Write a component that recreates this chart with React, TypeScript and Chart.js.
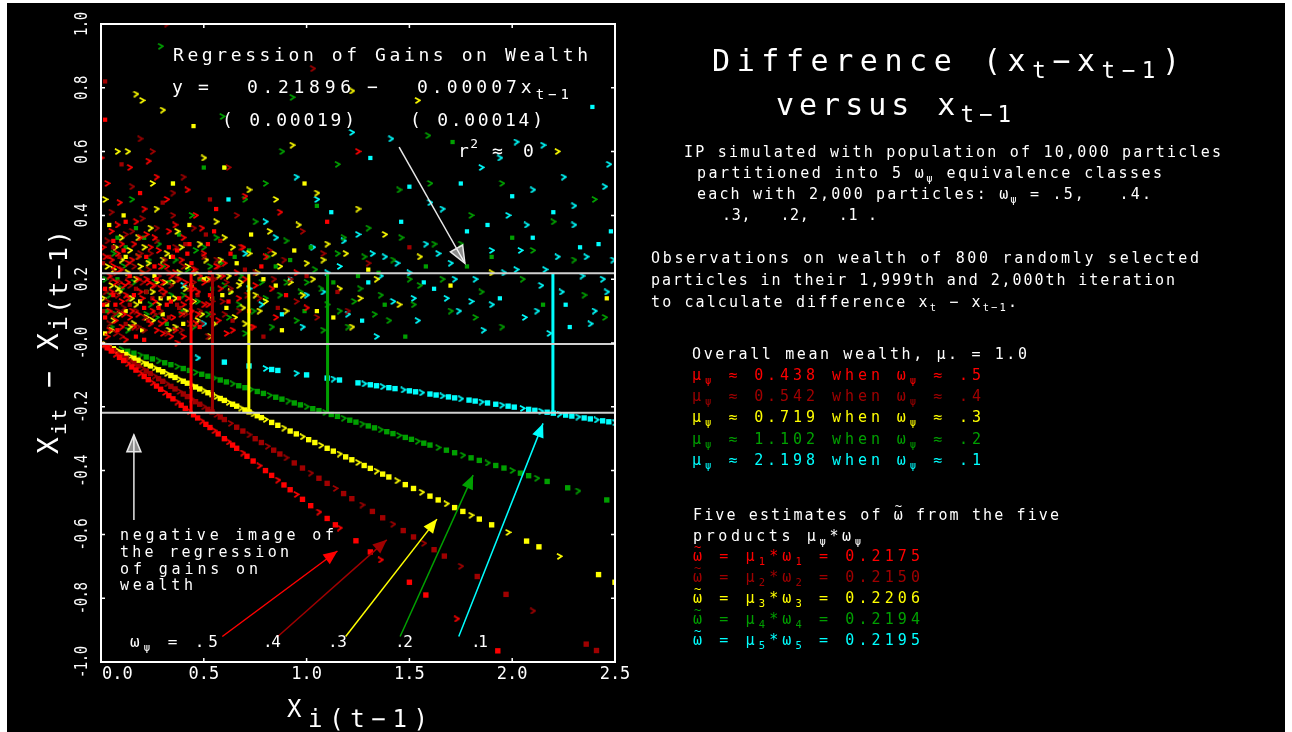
import React, { useEffect, useRef } from "react";
import { Chart, registerables } from "chart.js";
Chart.register(...registerables);

const FONT = "'DejaVu Sans Mono', monospace";
const RED = "#ff0000", DRED = "#a00000", YEL = "#ffff00", GRN = "#00a000", CYA = "#00ffff";

// ---- axis ticks ----
const xTickValues = [0, 0.5, 1, 1.5, 2, 2.5];
const xTickLabels = ["0.0", "0.5", "1.0", "1.5", "2.0", "2.5"];
const yTickValues = [1, 0.8, 0.6, 0.4, 0.2, 0, -0.2, -0.4, -0.6, -0.8, -1];
const yTickLabels = ["1.0", "0.8", "0.6", "0.4", "0.2", "-0.0", "-0.2", "-0.4", "-0.6", "-0.8", "-1.0"];

// ---- class parameters ----
const classMeans = [0.438, 0.542, 0.719, 1.102, 2.198];
const regressionIntercept = 0.21896;
const guideLevels = [0.21896, -0.003, -0.21896];

// ---- gains (x_{t-1}, x_t - x_{t-1}) ----
const redGains: [number, number][] = [
  [0.02,0.08],[0.04,0.21],[0.05,0.35],[0.03,0.02],[0.07,0.12],[0.08,0.28],[0.1,0.05],[0.11,0.18],[0.12,0.38],[0.13,0.25],
  [0.15,0.1],[0.16,0.31],[0.17,0.02],[0.18,0.2],[0.2,0.14],[0.21,0.42],[0.22,0.27],[0.24,0.06],[0.25,0.18],[0.26,0.33],
  [0.28,0.11],[0.29,0.24],[0.3,0.03],[0.31,0.16],[0.33,0.3],[0.34,0.21],[0.35,0.08],[0.36,0.37],[0.38,0.14],[0.39,0.26],
  [0.4,0.02],[0.41,0.19],[0.43,0.31],[0.44,0.1],[0.45,0.23],[0.47,0.16],[0.48,0.05],[0.5,0.28],[0.52,0.12],[0.53,0.2],
  [0.55,0.35],[0.57,0.07],[0.58,0.17],[0.6,0.25],[0.62,0.13],[0.64,0.04],[0.66,0.22],[0.69,0.3],[0.72,0.1],[0.75,0.18],
  [0.8,0.27],[0.85,0.08],[0.9,0.15],[0.03,0.5],[0.09,0.44],[0.14,0.55],[0.19,0.47],[0.27,0.52],[0.32,0.45],[0.42,0.48],
  [0.02,0.7],[0.0,0.58],[0.23,0.57],[0.08,0.37],[0.06,0.15],[0.14,0.08],[0.37,0.0],[0.46,0.4],[0.56,0.42],[0.7,0.46],
  [1.25,0.6],[0.87,0.41],[1.1,0.38],[0.01,0.3],[0.06,0.24],[0.19,0.33],[0.35,0.27],[0.12,0.15],[0.27,0.04],[0.49,0.36],
  [0.01,0.12],[0.02,0.27],[0.04,0.04],[0.05,0.16],[0.06,0.32],[0.07,0.07],[0.09,0.23],[0.1,0.13],[0.11,0.29],[0.12,0.01],
  [0.13,0.19],[0.15,0.26],[0.16,0.15],[0.17,0.38],[0.18,0.09],[0.2,0.22],[0.21,0.01],[0.22,0.34],[0.23,0.19],[0.25,0.1],
  [0.26,0.24],[0.28,0.29],[0.29,0.06],[0.3,0.19],[0.32,0.12],[0.33,0.35],[0.34,0.02],[0.36,0.22],[0.37,0.29],[0.39,0.09],
  [0.4,0.33],[0.42,0.14],[0.44,0.25],[0.46,0.06],[0.48,0.21],[0.5,0.12],[0.52,0.31],[0.54,0.09],[0.59,0.21],[0.61,0.03],
  [0.63,0.28],[0.67,0.14],[0.7,0.2],[0.74,0.05],[0.78,0.24],[0.83,0.17],[0.95,0.22],[1.0,0.11],
  [0.02,0.17],[0.04,0.1],[0.05,0.26],[0.07,0.19],[0.08,0.04],[0.1,0.31],[0.11,0.09],[0.13,0.14],[0.14,0.21],[0.16,0.05],
  [0.18,0.27],[0.19,0.16],[0.21,0.11],[0.22,0.2],[0.24,0.3],[0.26,0.13],[0.27,0.2],[0.29,0.17],[0.31,0.07],[0.32,0.24],
  [0.34,0.13],[0.36,0.04],[0.38,0.2],[0.4,0.12],[0.42,0.28],[0.45,0.17],[0.47,0.09],[0.5,0.19],[0.53,0.15],[0.56,0.24],
];
const darkRedGains: [number, number][] = [
  [0.01,0.25],[0.03,0.13],[0.05,0.41],[0.04,0.06],[0.06,0.3],[0.09,0.19],[0.1,0.02],[0.12,0.34],[0.14,0.12],[0.16,0.24],
  [0.18,0.05],[0.2,0.39],[0.22,0.16],[0.24,0.28],[0.26,0.09],[0.28,0.21],[0.3,0.44],[0.32,0.03],[0.34,0.18],[0.36,0.3],
  [0.38,0.11],[0.4,0.24],[0.43,0.06],[0.45,0.36],[0.47,0.15],[0.5,0.27],[0.52,0.02],[0.55,0.2],[0.58,0.32],[0.6,0.09],
  [0.63,0.17],[0.66,0.4],[0.7,0.23],[0.73,0.05],[0.77,0.14],[0.82,0.29],[0.86,0.11],[0.92,0.2],[0.98,0.35],[1.05,0.08],
  [1.15,0.16],[1.3,0.25],[0.19,0.64],[0.25,0.6],[0.1,0.56],[0.4,0.52],[0.62,0.55],[0.35,0.47],[0.02,0.82],[0.32,1.0],
  [1.03,0.86],[0.15,0.49],[0.53,0.45],[0.08,0.1],[0.27,0.36],[0.44,0.13],[1.5,0.3],[0.07,0.22],[0.21,0.08],[0.56,0.26],
  [0.01,0.1],[0.03,0.32],[0.05,0.2],[0.07,0.03],[0.09,0.27],[0.11,0.11],[0.13,0.21],[0.15,0.35],[0.17,0.17],[0.19,0.28],
  [0.21,0.04],[0.23,0.23],[0.25,0.14],[0.27,0.32],[0.29,0.1],[0.31,0.26],[0.33,0.08],[0.35,0.4],[0.37,0.2],[0.39,0.04],
  [0.41,0.31],[0.43,0.17],[0.46,0.23],[0.48,0.1],[0.51,0.34],[0.54,0.13],[0.57,0.24],[0.61,0.19],[0.64,0.07],[0.68,0.3],
  [0.71,0.15],[0.75,0.22],[0.79,0.02],[0.84,0.2],[0.89,0.26],[0.95,0.13],[1.0,0.21],[1.08,0.28],[1.2,0.1],
  [0.02,0.16],[0.04,0.27],[0.06,0.09],[0.08,0.15],[0.1,0.23],[0.12,0.06],[0.14,0.18],[0.17,0.1],[0.2,0.19],[0.23,0.07],
  [0.26,0.18],[0.3,0.15],[0.33,0.22],[0.37,0.12],[0.41,0.09],[0.45,0.19],[0.49,0.06],[0.53,0.22],[0.59,0.13],[0.67,0.1],
];
const yellowGains: [number, number][] = [
  [0.02,0.03],[0.05,0.18],[0.07,0.3],[0.09,0.09],[0.11,0.4],[0.13,0.22],[0.15,0.14],[0.18,0.33],[0.2,0.04],[0.23,0.25],
  [0.25,0.16],[0.27,0.42],[0.3,0.09],[0.32,0.28],[0.35,0.19],[0.37,0.35],[0.4,0.06],[0.42,0.24],[0.45,0.13],[0.48,0.31],
  [0.5,0.2],[0.53,0.02],[0.56,0.38],[0.58,0.26],[0.61,0.11],[0.64,0.3],[0.67,0.18],[0.7,0.06],[0.73,0.34],[0.76,0.22],
  [0.8,0.13],[0.84,0.28],[0.88,0.04],[0.92,0.19],[0.96,0.37],[1.0,0.25],[1.05,0.1],[1.1,0.31],[1.16,0.17],[1.22,0.05],
  [1.3,0.23],[1.38,0.34],[1.45,0.12],[1.55,0.27],[1.7,0.18],[1.9,0.22],[0.17,0.78],[0.2,0.76],[0.45,0.68],[0.3,0.73],
  [0.08,0.6],[0.13,0.6],[0.6,0.55],[0.5,0.58],[0.72,0.48],[0.93,0.62],[0.99,0.5],[1.22,0.79],[1.54,0.76],[2.22,0.6],
  [0.35,0.5],[0.85,0.45],[0.25,0.5],[1.25,0.42],[2.46,0.14],[1.05,0.47],[0.02,0.45],[0.1,0.26],[0.29,0.14],[0.62,0.21],
  [0.01,0.14],[0.03,0.24],[0.04,0.37],[0.06,0.07],[0.08,0.17],[0.1,0.33],[0.12,0.1],[0.14,0.29],[0.16,0.06],[0.17,0.2],
  [0.19,0.13],[0.21,0.3],[0.22,0.08],[0.24,0.36],[0.26,0.21],[0.28,0.12],[0.31,0.19],[0.33,0.04],[0.34,0.27],[0.36,0.14],
  [0.39,0.3],[0.41,0.17],[0.43,0.37],[0.46,0.22],[0.47,0.07],[0.51,0.26],[0.54,0.14],[0.57,0.21],[0.6,0.33],[0.63,0.16],
  [0.66,0.25],[0.69,0.11],[0.72,0.28],[0.75,0.15],[0.79,0.2],[0.82,0.35],[0.87,0.24],[0.9,0.1],[0.94,0.29],[0.98,0.15],
  [1.03,0.2],[1.08,0.26],[1.13,0.08],[1.19,0.28],[1.26,0.14],[1.34,0.2],
  [0.03,0.12],[0.05,0.04],[0.06,0.23],[0.09,0.16],[0.12,0.27],[0.14,0.05],[0.17,0.12],[0.19,0.24],[0.22,0.16],[0.25,0.07],
  [0.27,0.19],[0.3,0.26],[0.33,0.14],[0.36,0.05],[0.38,0.22],[0.41,0.1],[0.44,0.18],[0.49,0.09],[0.52,0.2],[0.55,0.06],
  [0.59,0.15],[0.65,0.08],[0.68,0.19],[0.77,0.1],[0.85,0.18],
];
const greenGains: [number, number][] = [
  [0.03,0.1],[0.06,0.28],[0.1,0.17],[0.13,0.04],[0.17,0.36],[0.2,0.22],[0.24,0.12],[0.28,0.31],[0.32,0.06],[0.36,0.26],
  [0.4,0.15],[0.44,0.4],[0.48,0.2],[0.52,0.09],[0.56,0.33],[0.6,0.18],[0.65,0.27],[0.7,0.03],[0.75,0.38],[0.8,0.14],
  [0.85,0.24],[0.9,0.32],[0.95,0.07],[1.0,0.19],[1.05,0.43],[1.1,0.12],[1.15,0.28],[1.2,0.05],[1.25,0.21],[1.3,0.36],
  [1.36,0.15],[1.42,0.26],[1.48,0.02],[1.55,0.18],[1.62,0.31],[1.7,0.1],[1.78,0.24],[1.85,0.16],[1.95,0.05],[2.05,0.2],
  [2.15,0.12],[2.3,0.26],[2.45,0.08],[0.29,0.93],[0.6,0.55],[0.88,0.6],[0.93,0.77],[0.59,0.71],[0.5,0.55],[0.8,0.5],
  [1.15,0.56],[1.59,0.65],[1.71,0.63],[2.4,0.45],[1.95,0.5],[1.45,0.48],[0.35,0.5],[2.2,0.38],[0.15,0.45],[1.8,0.4],
  [2.0,0.33],[0.7,0.45],[1.6,0.5],[2.35,0.15],[0.08,0.2],[0.22,0.09],[0.46,0.29],[0.67,0.12],[1.02,0.3],[1.33,0.09],
  [0.02,0.2],[0.05,0.05],[0.08,0.33],[0.11,0.24],[0.14,0.14],[0.18,0.27],[0.21,0.33],[0.26,0.19],[0.3,0.24],[0.34,0.15],
  [0.38,0.34],[0.42,0.23],[0.45,0.05],[0.5,0.3],[0.54,0.17],[0.58,0.25],[0.62,0.08],[0.68,0.21],[0.72,0.29],[0.78,0.19],
  [0.83,0.05],[0.87,0.15],[0.92,0.26],[0.97,0.16],[1.04,0.23],[1.08,0.04],[1.13,0.19],[1.18,0.33],[1.23,0.13],[1.28,0.27],
  [1.35,0.22],[1.4,0.07],[1.46,0.33],[1.52,0.12],[1.58,0.24],[1.66,0.2],[1.75,0.31],[1.82,0.08],[1.9,0.27],[2.1,0.29],
  [0.04,0.15],[0.07,0.09],[0.12,0.3],[0.16,0.19],[0.23,0.26],[0.27,0.08],[0.33,0.19],[0.39,0.1],[0.47,0.13],[0.53,0.24],
  [0.63,0.16],[0.74,0.1],[0.81,0.27],[0.9,0.19],[0.99,0.1],[1.07,0.17],[1.16,0.1],[1.26,0.17],[1.38,0.12],[1.5,0.2],
];
const cyanGains: [number, number][] = [
  [0.62,0.45],[0.7,0.28],[0.78,0.12],[0.85,0.33],[0.92,0.2],[0.98,0.05],[1.03,0.3],[1.08,0.16],[1.12,0.41],[1.16,0.24],
  [1.2,0.09],[1.25,0.34],[1.3,0.19],[1.34,0.02],[1.38,0.27],[1.42,0.13],[1.46,0.38],[1.5,0.22],[1.54,0.07],[1.58,0.31],
  [1.62,0.17],[1.66,0.42],[1.7,0.25],[1.74,0.1],[1.78,0.35],[1.82,0.2],[1.86,0.04],[1.9,0.29],[1.94,0.14],[1.98,0.4],
  [2.02,0.23],[2.06,0.08],[2.1,0.33],[2.14,0.18],[2.18,0.03],[2.22,0.27],[2.26,0.12],[2.3,0.37],[2.34,0.21],[2.38,0.06],
  [2.42,0.31],[2.46,0.16],[2.49,0.26],[1.41,0.64],[1.5,0.49],[1.85,0.55],[1.94,0.58],[2.15,0.62],[2.39,0.74],[2.25,0.52],
  [2.02,0.63],[1.22,0.66],[1.31,0.58],[2.45,0.49],[2.47,0.56],[1.6,0.44],[2.0,0.46],[1.05,0.45],[0.95,0.52],[2.3,0.43],
  [1.75,0.5],[2.1,0.48],[0.5,0.06],[0.4,0.18],[2.28,0.05],[1.9,0.12],[1.36,0.21],[1.68,0.14],[2.33,0.3],[2.07,0.37],
  [0.72,0.17],[0.8,0.38],[0.88,0.09],[1.0,0.15],[1.1,0.22],[1.18,0.32],[1.27,0.07],[1.32,0.28],[1.44,0.25],[1.52,0.14],
  [1.57,0.19],[1.64,0.28],[1.72,0.2],[1.8,0.13],[1.88,0.37],[1.96,0.22],[2.04,0.29],[2.12,0.1],[2.2,0.41],[2.24,0.16],
  [2.36,0.27],[2.44,0.2],[2.48,0.35],[2.4,0.1],[2.16,0.23],
];

// ---- losses (lie on x_t - x_{t-1} = -omega * x_{t-1}) ----
const redLosses: [number, number][] = [
  [0.01,-0.005],[0.03,-0.015],[0.05,-0.025],[0.07,-0.035],[0.09,-0.045],[0.11,-0.055],[0.13,-0.065],[0.15,-0.075],[0.17,-0.085],[0.19,-0.095],
  [0.21,-0.105],[0.23,-0.115],[0.25,-0.125],[0.27,-0.135],[0.29,-0.145],[0.31,-0.155],[0.33,-0.165],[0.35,-0.175],[0.37,-0.185],[0.39,-0.195],
  [0.41,-0.205],[0.43,-0.215],[0.45,-0.225],[0.47,-0.235],[0.49,-0.245],[0.51,-0.255],[0.53,-0.265],[0.55,-0.275],[0.57,-0.285],[0.6,-0.3],
  [0.62,-0.31],[0.64,-0.32],[0.66,-0.33],[0.69,-0.345],[0.71,-0.355],[0.74,-0.37],[0.77,-0.385],[0.8,-0.4],[0.83,-0.415],[0.86,-0.43],
  [0.89,-0.445],[0.92,-0.46],[0.95,-0.475],[0.98,-0.49],[1.02,-0.51],[1.06,-0.53],[1.1,-0.55],[1.14,-0.57],[1.16,-0.58],
  [1.24,-0.62],[1.31,-0.655],[1.36,-0.68],[1.5,-0.75],[1.58,-0.79],[1.73,-0.865],[1.93,-0.965],
];
const darkRedLosses: [number, number][] = [
  [0.02,-0.008],[0.04,-0.016],[0.06,-0.024],[0.08,-0.032],[0.1,-0.04],[0.12,-0.048],[0.14,-0.056],[0.16,-0.064],[0.18,-0.072],[0.2,-0.08],
  [0.22,-0.088],[0.24,-0.096],[0.26,-0.104],[0.28,-0.112],[0.3,-0.12],[0.32,-0.128],[0.34,-0.136],[0.36,-0.144],[0.38,-0.152],[0.4,-0.16],
  [0.42,-0.168],[0.44,-0.176],[0.46,-0.184],[0.48,-0.192],[0.5,-0.2],[0.52,-0.208],[0.54,-0.216],[0.56,-0.224],[0.58,-0.232],[0.6,-0.24],
  [0.63,-0.252],[0.66,-0.264],[0.69,-0.276],[0.72,-0.288],[0.75,-0.3],[0.78,-0.312],[0.81,-0.324],[0.84,-0.336],[0.87,-0.348],[0.9,-0.36],
  [0.94,-0.376],[0.98,-0.392],[1.02,-0.408],[1.06,-0.424],[1.1,-0.44],[1.14,-0.456],[1.18,-0.472],[1.22,-0.488],[1.27,-0.508],[1.32,-0.528],
  [1.37,-0.548],[1.42,-0.568],[1.47,-0.588],[1.52,-0.608],[1.57,-0.628],[1.62,-0.648],[1.67,-0.668],
  [1.75,-0.7],[1.83,-0.732],[1.97,-0.788],[2.1,-0.84],[2.36,-0.944],[2.41,-0.964],
];
const yellowLosses: [number, number][] = [
  [0.02,-0.006],[0.04,-0.012],[0.06,-0.018],[0.08,-0.024],[0.1,-0.03],[0.12,-0.036],[0.14,-0.042],[0.16,-0.048],[0.18,-0.054],[0.2,-0.06],
  [0.22,-0.066],[0.24,-0.072],[0.26,-0.078],[0.28,-0.084],[0.3,-0.09],[0.32,-0.096],[0.34,-0.102],[0.36,-0.108],[0.38,-0.114],[0.4,-0.12],
  [0.42,-0.126],[0.44,-0.132],[0.46,-0.138],[0.48,-0.144],[0.5,-0.15],[0.52,-0.156],[0.54,-0.162],[0.56,-0.168],[0.58,-0.174],[0.6,-0.18],
  [0.62,-0.186],[0.64,-0.192],[0.66,-0.198],[0.68,-0.204],[0.7,-0.21],[0.72,-0.216],[0.74,-0.222],[0.76,-0.228],[0.78,-0.234],[0.8,-0.24],
  [0.83,-0.249],[0.86,-0.258],[0.89,-0.267],[0.92,-0.276],[0.95,-0.285],[0.98,-0.294],[1.01,-0.303],[1.04,-0.312],[1.07,-0.321],[1.1,-0.33],
  [1.13,-0.339],[1.16,-0.348],[1.19,-0.357],[1.22,-0.366],[1.25,-0.375],[1.28,-0.384],[1.31,-0.393],[1.34,-0.402],[1.37,-0.411],[1.4,-0.42],
  [1.44,-0.432],[1.48,-0.444],[1.52,-0.456],[1.56,-0.468],[1.6,-0.48],[1.64,-0.492],[1.68,-0.504],[1.72,-0.516],[1.76,-0.528],[1.8,-0.54],
  [1.84,-0.552],[1.9,-0.57],[1.98,-0.594],[2.07,-0.621],[2.13,-0.639],[2.23,-0.669],[2.42,-0.726],[2.5,-0.75],
];
const greenLosses: [number, number][] = [
  [0.1,-0.02],[0.13,-0.026],[0.16,-0.032],[0.19,-0.038],[0.22,-0.044],[0.25,-0.05],[0.28,-0.056],[0.31,-0.062],[0.34,-0.068],[0.37,-0.074],
  [0.4,-0.08],[0.43,-0.086],[0.46,-0.092],[0.49,-0.098],[0.52,-0.104],[0.55,-0.11],[0.58,-0.116],[0.61,-0.122],[0.64,-0.128],[0.67,-0.134],
  [0.7,-0.14],[0.73,-0.146],[0.76,-0.152],[0.79,-0.158],[0.82,-0.164],[0.85,-0.17],[0.88,-0.176],[0.91,-0.182],[0.94,-0.188],[0.97,-0.194],
  [1.0,-0.2],[1.03,-0.206],[1.06,-0.212],[1.09,-0.218],[1.12,-0.224],[1.15,-0.23],[1.18,-0.236],[1.21,-0.242],[1.24,-0.248],[1.27,-0.254],
  [1.3,-0.26],[1.33,-0.266],[1.36,-0.272],[1.39,-0.278],[1.42,-0.284],[1.45,-0.29],[1.48,-0.296],[1.51,-0.302],[1.54,-0.308],[1.57,-0.314],
  [1.6,-0.32],[1.64,-0.328],[1.68,-0.336],[1.72,-0.344],[1.76,-0.352],[1.8,-0.36],[1.84,-0.368],[1.88,-0.376],[1.92,-0.384],[1.96,-0.392],
  [2.0,-0.4],[2.04,-0.408],[2.08,-0.416],[2.12,-0.424],[2.17,-0.434],[2.27,-0.454],[2.32,-0.464],[2.46,-0.492],
];
const cyanLosses: [number, number][] = [
  [0.47,-0.047],[0.6,-0.06],[0.72,-0.072],[0.8,-0.08],[0.83,-0.083],[0.86,-0.086],[0.95,-0.095],[1.0,-0.1],[1.1,-0.11],[1.13,-0.113],
  [1.16,-0.116],[1.25,-0.125],[1.28,-0.128],[1.31,-0.131],[1.34,-0.134],[1.37,-0.137],[1.4,-0.14],[1.43,-0.143],[1.47,-0.147],[1.5,-0.15],
  [1.53,-0.153],[1.56,-0.156],[1.6,-0.16],[1.63,-0.163],[1.66,-0.166],[1.69,-0.169],[1.72,-0.172],[1.75,-0.175],[1.79,-0.179],[1.82,-0.182],
  [1.85,-0.185],[1.88,-0.188],[1.92,-0.192],[1.95,-0.195],[1.98,-0.198],[2.01,-0.201],[2.05,-0.205],[2.08,-0.208],[2.11,-0.211],[2.14,-0.214],
  [2.17,-0.217],[2.2,-0.22],[2.23,-0.223],[2.26,-0.226],[2.29,-0.229],[2.32,-0.232],[2.35,-0.235],[2.38,-0.238],[2.41,-0.241],[2.44,-0.244],
  [2.47,-0.247],[2.5,-0.25],
];

// ---- annotation arrows (data units) ----
const colorArrows: { from: [number, number]; to: [number, number]; c: string }[] = [
  { from: [0.59, -0.92], to: [1.15, -0.652], c: RED },
  { from: [0.86, -0.92], to: [1.39, -0.617], c: DRED },
  { from: [1.19, -0.92], to: [1.634, -0.552], c: YEL },
  { from: [1.455, -0.92], to: [1.81, -0.414], c: GRN },
  { from: [1.74, -0.92], to: [2.15, -0.252], c: CYA },
];
const whiteArrows: { from: [number, number]; to: [number, number] }[] = [
  { from: [1.45, 0.614], to: [1.77, 0.25] },
  { from: [0.16, -0.555], to: [0.16, -0.288] },
];

type Seg = [string, number?, number?];

function graphemes(s: string): string[] {
  const out: string[] = [];
  for (const ch of Array.from(s)) {
    if (/[\u0300-\u036f]/.test(ch) && out.length) out[out.length - 1] += ch;
    else out.push(ch);
  }
  return out;
}

type RichOpts = { x1?: number; sp?: number; color?: string; sx?: number; align?: "left" | "center" };
function rich(ctx: CanvasRenderingContext2D, segs: Seg[] | string, x0: number, y: number, size: number, o: RichOpts = {}) {
  const list: Seg[] = typeof segs === "string" ? [[segs]] : segs;
  const sx = o.sx ?? 1;
  const items: { ch: string; fs: number; dy: number; w: number; tilde: boolean }[] = [];
  for (const s of list) {
    const fs = size * (s[1] ?? 1);
    ctx.font = `${fs}px ${FONT}`;
    for (const g of graphemes(s[0])) {
      const tilde = g.length > 1 && g.includes("\u0303");
      const ch = tilde ? g.replace("\u0303", "") : g;
      items.push({ ch, fs, dy: s[2] ?? 0, w: ctx.measureText(ch).width * sx, tilde });
    }
  }
  const total = items.reduce((a, b) => a + b.w, 0);
  const n = items.length;
  let sp = o.sp ?? size * 0.15;
  if (o.x1 !== undefined && n > 1) sp = (o.x1 - x0 - total) / (n - 1);
  let x = x0;
  if (o.align === "center") x = x0 - (total + sp * (n - 1)) / 2;
  ctx.fillStyle = o.color ?? "#ffffff";
  ctx.textBaseline = "middle";
  ctx.textAlign = "left";
  for (const it of items) {
    ctx.font = `${it.fs}px ${FONT}`;
    ctx.save();
    ctx.translate(x, y + it.dy);
    ctx.scale(sx, 1);
    ctx.fillText(it.ch, 0, 0);
    if (it.tilde) {
      ctx.font = `${it.fs * 0.8}px ${FONT}`;
      ctx.textAlign = "center";
      ctx.fillText("~", it.w / 2, -it.fs * 0.62);
    }
    ctx.restore();
    x += it.w + sp;
  }
}

function arrowHead(ctx: CanvasRenderingContext2D, x1: number, y1: number, x2: number, y2: number, len: number, hw: number) {
  const a = Math.atan2(y2 - y1, x2 - x1);
  const bx = x2 - Math.cos(a) * len, by = y2 - Math.sin(a) * len;
  ctx.beginPath();
  ctx.moveTo(x2, y2);
  ctx.lineTo(bx + Math.sin(a) * hw, by - Math.cos(a) * hw);
  ctx.lineTo(bx - Math.sin(a) * hw, by + Math.cos(a) * hw);
  ctx.closePath();
}

function makeChevron(color: string) {
  const c = document.createElement("canvas");
  c.width = 7; c.height = 7;
  const g = c.getContext("2d")!;
  g.strokeStyle = color; g.lineWidth = 1.7;
  g.beginPath(); g.moveTo(0.9, 0.8); g.lineTo(5.8, 3.3); g.lineTo(1.4, 6.2); g.stroke();
  return c;
}

const rowColors = [RED, DRED, YEL, GRN, CYA];
const rowMeanText = ["0.438", "0.542", "0.719", "1.102", "2.198"];
const rowOmegaText = [".5", ".4", ".3", ".2", ".1"];
const estimateText = ["0.2175", "0.2150", "0.2206", "0.2194", "0.2195"];

const overlay = {
  id: "overlay",
  beforeDraw(chart: any) {
    const ctx: CanvasRenderingContext2D = chart.ctx;
    ctx.save();
    ctx.fillStyle = "#000000";
    ctx.fillRect(7, 3, 1278, 729);
    ctx.restore();
  },
  afterDraw(chart: any) {
    const ctx: CanvasRenderingContext2D = chart.ctx;
    const xs = chart.scales.x, ys = chart.scales.y;
    const { left, right, top, bottom } = chart.chartArea;
    ctx.save();
    for (const a of colorArrows) {
      const x1 = xs.getPixelForValue(a.from[0]), y1 = ys.getPixelForValue(a.from[1]);
      const x2 = xs.getPixelForValue(a.to[0]), y2 = ys.getPixelForValue(a.to[1]);
      ctx.strokeStyle = a.c; ctx.fillStyle = a.c; ctx.lineWidth = 1.5;
      ctx.beginPath(); ctx.moveTo(x1, y1); ctx.lineTo(x2, y2); ctx.stroke();
      arrowHead(ctx, x1, y1, x2, y2, 14, 6); ctx.fill();
    }
    for (const a of whiteArrows) {
      const x1 = xs.getPixelForValue(a.from[0]), y1 = ys.getPixelForValue(a.from[1]);
      const x2 = xs.getPixelForValue(a.to[0]), y2 = ys.getPixelForValue(a.to[1]);
      ctx.strokeStyle = "#e8e8e8"; ctx.lineWidth = 1.5;
      ctx.beginPath(); ctx.moveTo(x1, y1); ctx.lineTo(x2, y2); ctx.stroke();
      arrowHead(ctx, x1, y1, x2, y2, 17, 7);
      ctx.fillStyle = "rgba(255,255,255,0.55)"; ctx.fill(); ctx.stroke();
    }
    ctx.strokeStyle = "#ffffff"; ctx.lineWidth = 2;
    ctx.strokeRect(left, top, right - left, bottom - top);
    ctx.lineWidth = 1.5;
    ctx.beginPath();
    for (const v of xTickValues) {
      const px = xs.getPixelForValue(v);
      ctx.moveTo(px, top); ctx.lineTo(px, top + 4);
      ctx.moveTo(px, bottom); ctx.lineTo(px, bottom - 4);
    }
    for (const v of yTickValues) {
      const py = ys.getPixelForValue(v);
      ctx.moveTo(left, py); ctx.lineTo(left + 4, py);
      ctx.moveTo(right, py); ctx.lineTo(right - 4, py);
    }
    ctx.stroke();
    xTickValues.forEach((v, i) => {
      const px = xs.getPixelForValue(v);
      if (i === 0) rich(ctx, xTickLabels[i], px + 1, 675, 17, { sp: 0 });
      else rich(ctx, xTickLabels[i], px, 675, 17, { sp: 0, align: "center" });
    });
    yTickValues.forEach((v, i) => {
      const py = ys.getPixelForValue(v);
      ctx.save();
      ctx.translate(83, py);
      ctx.rotate(-Math.PI / 2);
      rich(ctx, yTickLabels[i], 0, 0, 17, { sp: -0.5, sx: 0.82, align: "center" });
      ctx.restore();
    });
    rich(ctx, [["X"], ["i(t−1)", 1, 10]], 287, 711, 24, { x1: 428 });
    ctx.save();
    ctx.translate(51, 454);
    ctx.rotate(-Math.PI / 2);
    rich(ctx, [["X"], ["it", 0.72, 10], [" − X"], ["i(t−1)", 0.9, 9]], 0, 0, 28, { x1: 224 });
    ctx.restore();

    rich(ctx, "Regression of Gains on Wealth", 173, 56, 18, { x1: 588 });
    rich(ctx, "y", 172, 88, 18);
    rich(ctx, "=", 198, 88, 18);
    rich(ctx, regressionIntercept.toFixed(5), 247, 88, 18, { x1: 351 });
    rich(ctx, "−", 367, 88, 18);
    rich(ctx, [["0.00007x"], ["t−1", 0.78, 7]], 417, 88, 18, { x1: 569 });
    rich(ctx, "( 0.00019)", 222, 121, 18, { x1: 355 });
    rich(ctx, "( 0.00014)", 410, 121, 18, { x1: 543 });
    rich(ctx, [["r"], ["2", 0.72, -7]], 458, 152, 18, { x1: 478 });
    rich(ctx, "≈", 492, 152, 18);
    rich(ctx, "0", 523, 152, 18);

    rich(ctx, "negative image of", 120, 536, 15, { x1: 334 });
    rich(ctx, "the regression", 120, 553, 15, { x1: 289 });
    rich(ctx, "of gains on", 120, 570, 15, { x1: 258 });
    rich(ctx, "wealth", 120, 586, 15, { x1: 193 });

    rich(ctx, [["ω"], ["ψ", 0.7, 5], [" = .5"]], 130, 643, 16, { x1: 218 });
    rich(ctx, ".4", 263, 643, 16, { x1: 281 });
    rich(ctx, ".3", 328, 643, 16, { x1: 347 });
    rich(ctx, ".2", 395, 643, 16, { x1: 413 });
    rich(ctx, ".1", 471, 643, 16, { x1: 488 });

    rich(ctx, [["Difference (x"], ["t", 0.75, 9], ["−x"], ["t−1", 0.75, 9], [")"]], 712, 63, 30, { x1: 1180 });
    rich(ctx, [["versus x"], ["t−1", 0.75, 9]], 776, 107, 30, { x1: 1011 });
    rich(ctx, "IP simulated with population of 10,000 particles", 684, 153, 15, { x1: 1221 });
    rich(ctx, [["partitioned into 5 ω"], ["ψ", 0.7, 5], [" equivalence classes"]], 697, 174, 15, { x1: 1162 });
    rich(ctx, [["each with 2,000 particles: ω"], ["ψ", 0.7, 5], [" = .5,   .4."]], 697, 195, 15, { x1: 1151 });
    rich(ctx, ".3,   .2,   .1 .", 722, 216, 15, { x1: 877 });
    rich(ctx, "Observations on wealth of 800 randomly selected", 651, 259, 15, { x1: 1199 });
    rich(ctx, "particles in their 1,999th and 2,000th iteration", 651, 281, 15, { x1: 1175 });
    rich(ctx, [["to calculate difference x"], ["t", 0.7, 5], [" − x"], ["t−1", 0.7, 5], ["."]], 651, 303, 15, { x1: 1017 });
    rich(ctx, "Overall mean wealth, μ. = 1.0", 692, 355, 15, { x1: 1027 });
    rowColors.forEach((c, i) => {
      rich(ctx, [["μ"], ["ψ", 0.7, 5], [` ≈ ${rowMeanText[i]} when ω`], ["ψ", 0.7, 5], [` ≈ ${rowOmegaText[i]}`]], 692, 376 + i * 21.3, 15, { x1: 981, color: c });
    });
    rich(ctx, "Five estimates of ω̃ from the five", 693, 516, 15, { x1: 1059 });
    rich(ctx, [["products μ"], ["ψ", 0.7, 5], ["*ω"], ["ψ", 0.7, 5]], 693, 537, 15, { x1: 861 });
    rowColors.forEach((c, i) => {
      const k = String(i + 1);
      rich(ctx, [["ω̃ = μ"], [k, 0.7, 5], ["*ω"], [k, 0.7, 5], [` = ${estimateText[i]}`]], 693, 557 + i * 21, 15, { x1: 920, color: c });
    });
    ctx.restore();
  },
};

export default function App() {
  const ref = useRef<HTMLCanvasElement>(null);
  useEffect(() => {
    if (!ref.current) return;
    const classes = [
      { color: RED, gains: redGains, losses: redLosses },
      { color: DRED, gains: darkRedGains, losses: darkRedLosses },
      { color: YEL, gains: yellowGains, losses: yellowLosses },
      { color: GRN, gains: greenGains, losses: greenLosses },
      { color: CYA, gains: cyanGains, losses: cyanLosses },
    ];
    const datasets: any[] = [];
    guideLevels.forEach((lv) => {
      datasets.push({
        data: [{ x: 0, y: lv }, { x: 2.5, y: lv }],
        showLine: true, borderColor: "#d0d0d0", borderWidth: 2, pointRadius: 0, order: 0,
      });
    });
    classMeans.forEach((m, i) => {
      datasets.push({
        data: [{ x: m, y: guideLevels[0] }, { x: m, y: guideLevels[2] }],
        showLine: true, borderColor: rowColors[i], borderWidth: 3, pointRadius: 0, order: 0,
      });
    });
    classes.forEach((c, i) => {
      const img = makeChevron(c.color);
      datasets.push({
        data: c.gains.map(([x, y]) => ({ x, y })),
        pointStyle: (ctx: any) => (ctx.dataIndex % 4 === 0 ? "rect" : img),
        pointRadius: 3, pointBackgroundColor: c.color, pointBorderWidth: 0, order: 1 + i,
      });
      datasets.push({
        data: c.losses.map(([x, y]) => ({ x, y })),
        pointStyle: (ctx: any) => (ctx.dataIndex % 3 === 0 ? img : "rect"),
        pointRadius: 3.8, pointBackgroundColor: c.color, pointBorderWidth: 0, order: 1 + i,
      });
    });
    const chart = new Chart(ref.current, {
      type: "scatter",
      data: { datasets },
      options: {
        animation: false,
        responsive: false,
        devicePixelRatio: 1,
        events: [],
        layout: { padding: { left: 101, top: 24, right: 677, bottom: 70 } },
        scales: {
          x: { type: "linear", min: 0, max: 2.5, display: false },
          y: { type: "linear", min: -1, max: 1, display: false },
        },
        plugins: { legend: { display: false }, tooltip: { enabled: false } },
      },
      plugins: [overlay as any],
    });
    return () => chart.destroy();
  }, []);
  return (
    <div style={{ position: "fixed", left: 0, top: 0, width: 1292, height: 732 }}>
      <canvas ref={ref} width={1292} height={732} style={{ width: 1292, height: 732, display: "block" }} />
    </div>
  );
}
